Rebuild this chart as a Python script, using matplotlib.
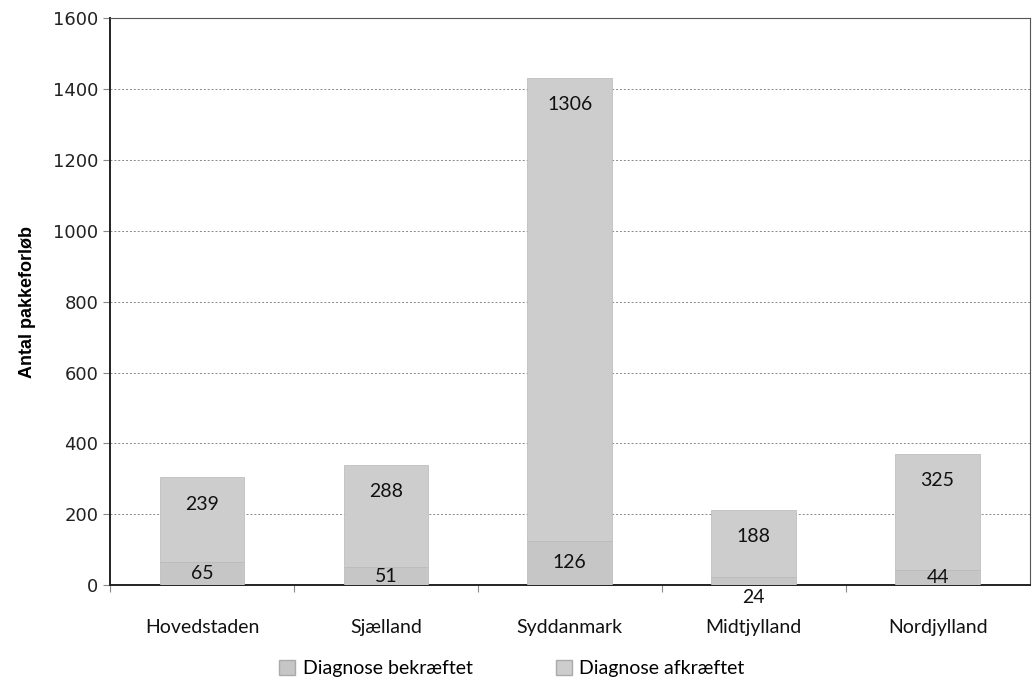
import matplotlib
matplotlib.use("Agg")
import matplotlib.pyplot as plt
from matplotlib.patches import Patch

regions = ["Hovedstaden", "Sjælland", "Syddanmark", "Midtjylland", "Nordjylland"]
bekraeftet = [65, 51, 126, 24, 44]
afkraeftet = [239, 288, 1306, 188, 325]
yticks = [0, 200, 400, 600, 800, 1000, 1200, 1400, 1600]

fig = plt.figure(figsize=(10.32, 7.0), dpi=100)
ax = fig.add_axes([0.1066, 0.164, 0.891, 0.81])

x = list(range(len(regions)))
w = 0.46
c1 = "#c6c6c6"
c2 = "#cdcdcd"
ax.bar(x, bekraeftet, width=w, color=c1, edgecolor="#b8b8b8", linewidth=0.5, zorder=3)
ax.bar(x, afkraeftet, width=w, bottom=bekraeftet, color=c2, edgecolor="#b8b8b8",
       linewidth=0.5, zorder=3)

lab_font = dict(family="Lato", fontsize=14, color="#111111")
for xi, b, a in zip(x, bekraeftet, afkraeftet):
    if b < 30:
        ax.annotate(str(b), (xi, 0), xytext=(0, -3), textcoords="offset points",
                    ha="center", va="top", zorder=5, **lab_font)
    else:
        ax.annotate(str(b), (xi, b / 2), ha="center", va="center", zorder=5, **lab_font)
    ax.annotate(str(a), (xi, b + a), xytext=(0, -13), textcoords="offset points",
                ha="center", va="top", zorder=5, **lab_font)

ax.set_xlim(-0.5, len(regions) - 0.5)
ax.set_ylim(0, 1600)
ax.set_yticks(yticks)
ax.set_yticklabels([str(v) for v in yticks], fontsize=13, family="DejaVu Sans", color="#222222")
ax.set_xticks([i + 0.5 for i in x[:-1]] + [-0.5], minor=False)
ax.set_xticklabels([])
ax.set_xticks(x, minor=True)
ax.set_xticklabels(regions, minor=True, fontsize=14, family="Lato", color="#111111")
ax.tick_params(axis="x", which="minor", length=0, pad=24)
ax.tick_params(axis="x", which="major", length=5, color="#888888")
ax.tick_params(axis="y", length=5, color="#888888")

ax.grid(axis="y", linestyle=(0, (2, 2)), color="#888888", linewidth=0.7, zorder=0)
for s in ["left", "bottom"]:
    ax.spines[s].set_linewidth(1.4)
    ax.spines[s].set_color("#222222")
for s in ["top", "right"]:
    ax.spines[s].set_linewidth(0.8)
    ax.spines[s].set_color("#555555")

ax.set_ylabel("Antal pakkeforløb", fontsize=13, fontweight="bold", family="Liberation Sans",
              labelpad=12)

handles = [Patch(facecolor=c1, edgecolor="#aaaaaa"), Patch(facecolor=c2, edgecolor="#aaaaaa")]
fig.legend(handles, ["Diagnose bekræftet", "Diagnose afkræftet"], loc="center",
           bbox_to_anchor=(0.496, 0.045), ncol=2, frameon=False, columnspacing=4.3,
           handlelength=0.8, handleheight=0.8, handletextpad=0.4,
           prop=dict(family="Lato", size=14))

fig.savefig("out.png", dpi=100)
